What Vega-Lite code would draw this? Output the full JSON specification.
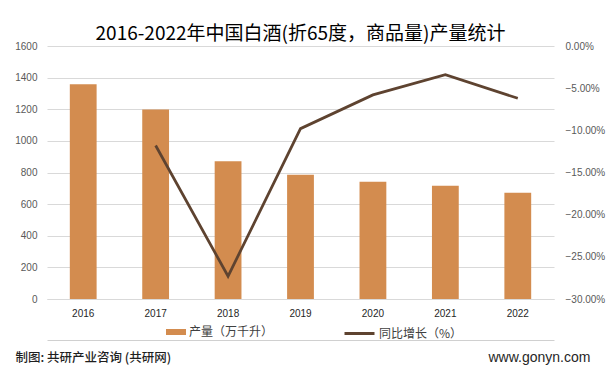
{
  "$schema": "https://vega.github.io/schema/vega-lite/v6.json",
  "width": 507,
  "height": 253,
  "autosize": "none",
  "padding": {"left": 47, "top": 46, "right": 61, "bottom": 70},
  "background": "#ffffff",
  "title": {
    "text": "2016-2022年中国白酒(折65度，商品量)产量统计",
    "anchor": "middle",
    "font": "Noto Sans CJK SC",
    "fontSize": 19,
    "fontWeight": "normal",
    "color": "#000000",
    "offset": -3
  },
  "config": {
    "view": {"stroke": null},
    "axis": {"labelFont": "Liberation Sans", "labelFontSize": 10, "ticks": false}
  },
  "data": {
    "values": [
      {"year": "2016", "output": 1358.36, "growth": null},
      {"year": "2017", "output": 1198.06, "growth": -0.118},
      {"year": "2018", "output": 871.2, "growth": -0.273},
      {"year": "2019", "output": 785.95, "growth": -0.098},
      {"year": "2020", "output": 740.73, "growth": -0.058},
      {"year": "2021", "output": 715.63, "growth": -0.034},
      {"year": "2022", "output": 671.24, "growth": -0.062}
    ]
  },
  "layer": [
    {
      "mark": {"type": "bar"},
      "encoding": {
        "x": {
          "field": "year",
          "type": "nominal",
          "sort": null,
          "scale": {"domain": ["2016","2017","2018","2019","2020","2021","2022"], "paddingInner": 0.63, "paddingOuter": 0.315},
          "axis": {
            "title": null,
            "labelAngle": 0,
            "labelColor": "#262626",
            "labelPadding": 9,
            "domain": true,
            "domainColor": "#D9D9D9",
            "grid": false
          }
        },
        "y": {
          "field": "output",
          "type": "quantitative",
          "scale": {"domain": [0, 1600], "nice": false},
          "axis": {
            "values": [0, 200, 400, 600, 800, 1000, 1200, 1400, 1600],
            "format": "d",
            "labelColor": "#595959",
            "labelPadding": 10,
            "domain": false,
            "grid": true,
            "gridColor": "#D9D9D9",
            "title": "制图: 共研产业咨询 (共研网)",
            "titleAngle": 0,
            "titleAlign": "left",
            "titleBaseline": "middle",
            "titleX": -32,
            "titleY": 311,
            "titleFont": "Noto Sans CJK SC",
            "titleFontSize": 12.5,
            "titleFontWeight": 500,
            "titleColor": "#1f1f1f"
          }
        },
        "fill": {
          "datum": "产量（万千升）",
          "scale": {"range": ["#D38C4F"]},
          "legend": {
            "orient": "none",
            "legendX": 119,
            "legendY": 276,
            "title": null,
            "padding": 0,
            "symbolType": "M-1,-0.3H1V0.3H-1Z",
            "symbolSize": 400,
            "symbolStrokeWidth": 0,
            "labelOffset": 3,
            "labelFont": "Noto Sans CJK SC",
            "labelFontSize": 12,
            "labelColor": "#404040"
          }
        }
      }
    },
    {
      "mark": {"type": "line", "strokeWidth": 2.75},
      "encoding": {
        "x": {
          "field": "year",
          "type": "nominal",
          "sort": null,
          "scale": {"domain": ["2016","2017","2018","2019","2020","2021","2022"], "paddingInner": 0.63, "paddingOuter": 0.315},
          "axis": {
            "orient": "bottom",
            "offset": 41,
            "labels": false,
            "ticks": false,
            "grid": false,
            "domain": true,
            "domainColor": "#D0D0D0",
            "domainWidth": 1,
            "title": null
          }
        },
        "y": {
          "field": "growth",
          "type": "quantitative",
          "scale": {"domain": [-0.3, 0], "nice": false},
          "axis": {
            "orient": "right",
            "values": [0, -0.05, -0.1, -0.15, -0.2, -0.25, -0.3],
            "format": ".2%",
            "labelColor": "#595959",
            "labelPadding": 11,
            "domain": false,
            "grid": false,
            "title": "www.gonyn.com",
            "titleAngle": 0,
            "titleAlign": "left",
            "titleBaseline": "middle",
            "titleX": -66,
            "titleY": 311,
            "titleFont": "Liberation Sans",
            "titleFontSize": 14,
            "titleFontWeight": "normal",
            "titleColor": "#262626"
          }
        },
        "stroke": {
          "datum": "同比增长（%）",
          "scale": {"range": ["#5E4330"]},
          "legend": {
            "orient": "none",
            "legendX": 296,
            "legendY": 271,
            "title": null,
            "padding": 0,
            "symbolType": "stroke",
            "symbolSize": 900,
            "symbolStrokeWidth": 3,
            "labelOffset": 3,
            "labelFont": "Noto Sans CJK SC",
            "labelFontSize": 12,
            "labelColor": "#404040"
          }
        }
      }
    }
  ],
  "resolve": {"scale": {"y": "independent", "x": "independent", "fill": "independent", "stroke": "independent"}, "axis": {"x": "independent"}}
}
